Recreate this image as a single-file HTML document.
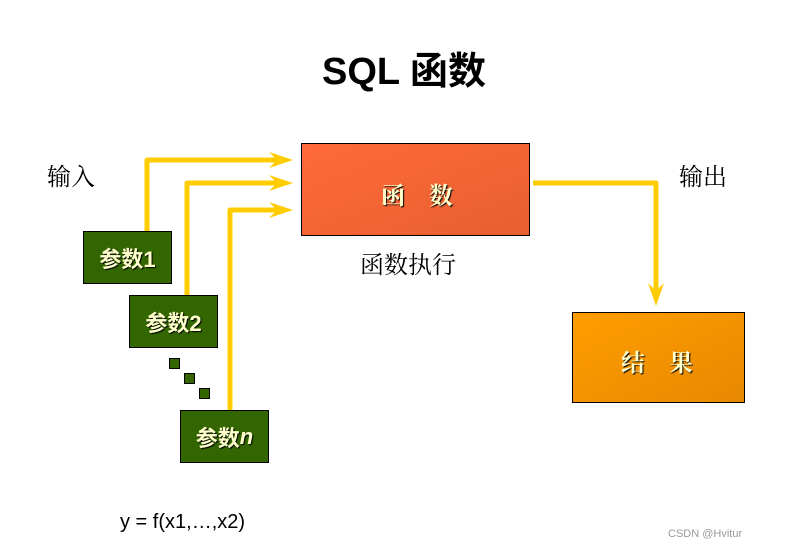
<!DOCTYPE html>
<html><head><meta charset="utf-8"><style>
body{margin:0;width:785px;height:548px;background:#fff;position:relative;overflow:hidden;font-family:"Liberation Sans","Noto Sans CJK SC",sans-serif}
.t{position:absolute;white-space:nowrap}
.g{position:absolute;background:#336600;border:1px solid #000;box-sizing:border-box;color:#ffffcc;font-weight:bold;font-size:22px;text-shadow:1px 1px 1px #000;display:flex;align-items:center;justify-content:center}
.sq{position:absolute;width:11px;height:11px;background:#336600;border:1px solid #000;box-sizing:border-box}
</style></head><body>
<div class="t" style="left:322px;top:40px;font-size:38px;font-weight:bold;font-family:'Liberation Sans','Noto Sans CJK SC',sans-serif">SQL 函数</div>
<div class="t" style="left:47px;top:157px;font-size:24px;font-family:'Noto Serif CJK SC',serif">输入</div>
<div class="t" style="left:679px;top:157px;font-size:24px;font-family:'Noto Serif CJK SC',serif">输出</div>
<div class="t" style="left:360px;top:245px;font-size:24px;font-family:'Noto Serif CJK SC',serif">函数执行</div>
<div class="t" style="left:120px;top:511px;font-size:20px">y = f(x1,…,x2)</div>
<div class="t" style="left:668px;top:528px;font-size:11px;color:#999">CSDN @Hvitur</div>
<svg style="position:absolute;left:0;top:0" width="785" height="548">
<g fill="none" stroke="#ffcc00" stroke-width="5" stroke-linejoin="round">
<path d="M147 231 V160 H282"/><path d="M187 295 V183 H282"/><path d="M230 410 V210 H282"/>
<path d="M533 183 H656 V292"/>
</g>
<g fill="#ffcc00">
<path d="M269 152 L293 160 L269 168 L277 160Z"/>
<path d="M269 175 L293 183 L269 191 L277 183Z"/>
<path d="M269 202 L293 210 L269 218 L277 210Z"/>
<path d="M648 283 L656 306 L664 283 L656 291Z"/>
</g>
<defs>
<linearGradient id="a" x1="0" y1="0" x2="1" y2="1"><stop offset="0" stop-color="#ff6a3a"/><stop offset="1" stop-color="#e85f30"/></linearGradient>
<linearGradient id="b" x1="0" y1="0" x2="1" y2="1"><stop offset="0" stop-color="#ff9e00"/><stop offset="1" stop-color="#e88800"/></linearGradient>
</defs>
<rect x="301.5" y="143.5" width="228" height="92" fill="url(#a)" stroke="#000"/>
<rect x="572.5" y="312.5" width="172" height="90" fill="url(#b)" stroke="#000"/>
</svg>
<div class="t" style="left:381px;top:176px;font-size:24px;font-weight:bold;color:#ffffcc;text-shadow:1px 1px 1px #000;font-family:'Noto Serif CJK SC',serif">函&nbsp;&nbsp;&nbsp;&nbsp;数</div>
<div class="t" style="left:621px;top:343px;font-size:24px;font-weight:bold;color:#ffffcc;text-shadow:1px 1px 1px #000;font-family:'Noto Serif CJK SC',serif">结&nbsp;&nbsp;&nbsp;&nbsp;果</div>
<div class="g" style="left:83px;top:231px;width:89px;height:53px">参数1</div>
<div class="g" style="left:129px;top:295px;width:89px;height:53px">参数2</div>
<div class="g" style="left:180px;top:410px;width:89px;height:53px">参数<i>n</i></div>
<div class="sq" style="left:169px;top:358px"></div>
<div class="sq" style="left:184px;top:373px"></div>
<div class="sq" style="left:199px;top:388px"></div>
</body></html>
